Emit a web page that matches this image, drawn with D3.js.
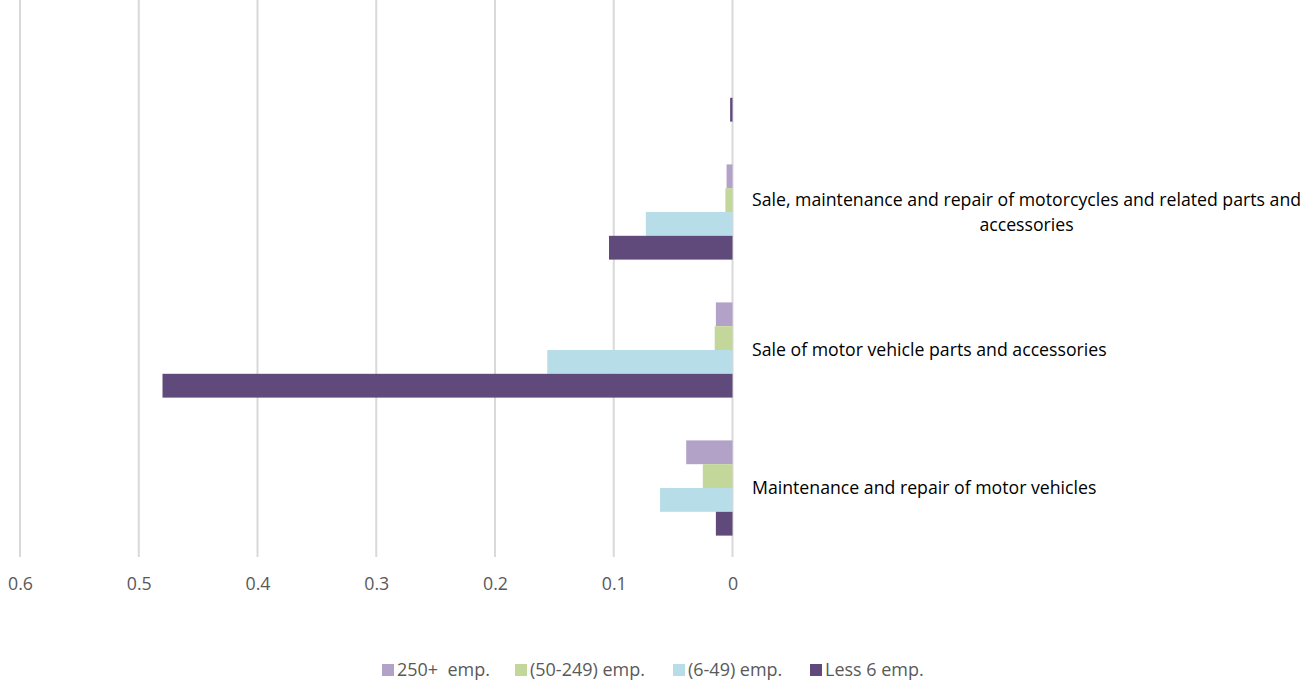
<!DOCTYPE html>
<html><head><meta charset="utf-8">
<script src="https://cdn.jsdelivr.net/npm/d3@7/dist/d3.min.js"></script>
<style>body{margin:0;background:#fff;} svg{display:block;}</style>
</head><body>
<svg id="c" width="1314" height="685"></svg>
<script>
const categories = ["Maintenance and repair of motor vehicles", "Sale of motor vehicle parts and accessories", "Sale, maintenance and repair of motorcycles and related parts and accessories", ""];
const seriesNames = ["250+  emp.", "(50-249) emp.", "(6-49) emp.", "Less 6 emp."];
const colors = ["#b3a2c7", "#c4d79b", "#b7dee8", "#604a7b"];
const s250 = [0.039, 0.014, 0.005, 0];
const s50 = [0.025, 0.015, 0.006, 0];
const s6 = [0.061, 0.156, 0.073, 0];
const sLess6 = [0.014, 0.480, 0.104, 0.002];
const ticks = [0, 0.1, 0.2, 0.3, 0.4, 0.5, 0.6];
const series = [s250, s50, s6, sLess6];

const svg = d3.select("#c");
const font = "'Open Sans', Lato, sans-serif";

// fit a font size so a reference string gets a target width
function fitSize(str, target, base) {
  const m = svg.append("text").attr("font-family", font).attr("font-size", base).style("white-space", "pre").text(str);
  const w = m.node().getComputedTextLength();
  m.remove();
  return base * target / w;
}
const labelSize = fitSize("Sale of motor vehicle parts and accessories", 355, 16);
const legendSize = fitSize("(50-249) emp.", 115, 16);
const tickSize = fitSize("0.6", 25, 16);

const x = d3.scaleLinear().domain([0, 0.6]).range([732.5, 20]);
const y = d3.scaleBand().domain(categories.map((d,i)=>i)).range([557, 5]).paddingInner(0.31).paddingOuter(0.155);
const ySub = d3.scaleBand().domain(d3.range(series.length)).range([0, y.bandwidth()]);

// gridlines
svg.append("g").selectAll("line").data(ticks).join("line")
  .attr("x1", d=>x(d)).attr("x2", d=>x(d)).attr("y1", 0).attr("y2", 557)
  .attr("stroke", "#d9d9d9").attr("stroke-width", 2);

// axis labels
const ax = svg.append("g").attr("transform", "translate(0,584)")
  .call(d3.axisBottom(x).tickValues(ticks).tickFormat(d3.format("")).tickSize(0));
ax.select(".domain").remove();
ax.selectAll("text").attr("font-family", font).attr("font-size", tickSize).attr("fill", "#595959").attr("y", 0).attr("dy", "0.35em");

// bars
categories.forEach((c, ci) => {
  const g = svg.append("g").attr("transform", `translate(0,${y(ci)})`);
  series.forEach((s, si) => {
    const v = s[ci];
    if (v <= 0) return;
    g.append("rect").attr("x", x(v)).attr("y", ySub(si))
      .attr("width", x(0) - x(v)).attr("height", ySub.bandwidth())
      .attr("fill", colors[si]);
  });
});

// category labels (wrapped, lines centered against each other)
const labelX = 752, maxW = 552;
categories.forEach((c, ci) => {
  if (!c) return;
  const cy = y(ci) + y.bandwidth() / 2;
  const t = svg.append("text").attr("font-family", font).attr("font-size", labelSize).attr("fill", "#000");
  const words = c.split(" ");
  const lines = [];
  let cur = "";
  const meas = svg.append("text").attr("font-family", font).attr("font-size", labelSize);
  words.forEach(w => {
    const test = cur ? cur + " " + w : w;
    meas.text(test);
    if (meas.node().getComputedTextLength() > maxW && cur) { lines.push(cur); cur = w; } else cur = test;
  });
  lines.push(cur);
  const widths = lines.map(l => { meas.text(l); return meas.node().getComputedTextLength(); });
  meas.remove();
  const wmax = d3.max(widths);
  const lh = 25;
  const top = cy - (lines.length - 1) * lh / 2;
  lines.forEach((l, li) => {
    t.append("tspan").attr("x", labelX + wmax / 2).attr("text-anchor", "middle")
      .attr("y", top + li * lh).attr("dy", "0.35em").text(l);
  });
});

// legend
const legX = [382, 515, 673, 810];
const lg = svg.append("g");
seriesNames.forEach((n, i) => {
  lg.append("rect").attr("x", legX[i]).attr("y", 664).attr("width", 12).attr("height", 12).attr("fill", colors[i]);
  lg.append("text").attr("x", legX[i] + 15).attr("y", 670).attr("dy", "0.35em").style("white-space", "pre")
    .attr("font-family", font).attr("font-size", legendSize).attr("fill", "#595959").text(n);
});
</script>
</body></html>
